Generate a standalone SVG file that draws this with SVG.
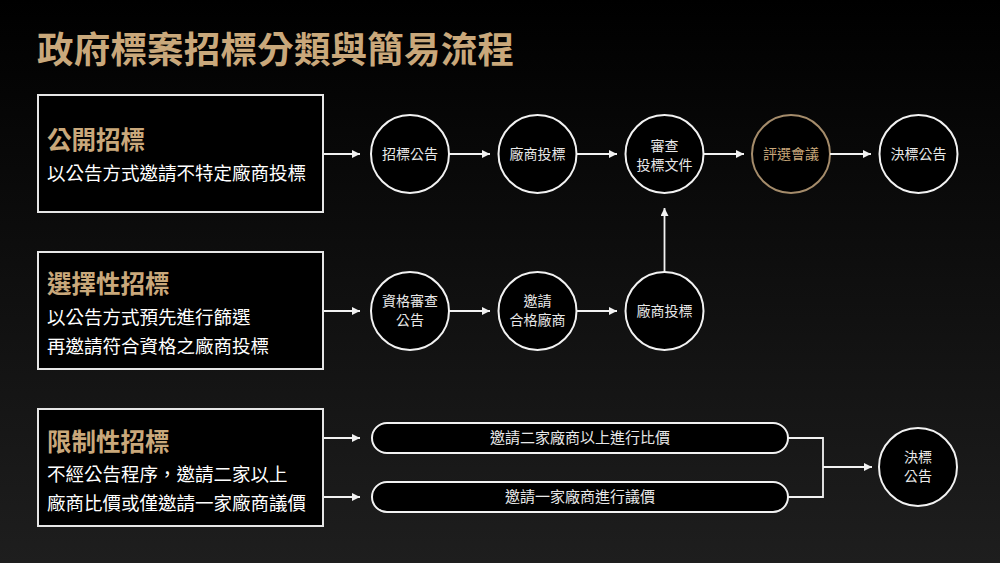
<svg xmlns="http://www.w3.org/2000/svg" width="1000" height="563" viewBox="0 0 1000 563">
<defs>
<linearGradient id="bg" x1="0" y1="0" x2="0" y2="1">
<stop offset="0" stop-color="#000000"/>
<stop offset="1" stop-color="#1e1e1e"/>
</linearGradient>
<marker id="ah" viewBox="0 0 10 10" refX="10" refY="5" markerWidth="8" markerHeight="8" markerUnits="userSpaceOnUse" orient="auto">
<path d="M0,0 L10,5 L0,10 Z" fill="#f2f2f2"/>
</marker>
<style>
text{font-family:"Noto Sans CJK TC","Noto Sans CJK SC",sans-serif;}
.title{font-size:36.5px;font-weight:700;fill:#c9a87b;letter-spacing:0.2px;}
.box{fill:#000;stroke:#e6e6e6;stroke-width:2;}
.head{font-size:24.5px;font-weight:700;fill:#c9a87b;}
.sub{font-size:18.5px;fill:#ffffff;}
.node{fill:#000;stroke:#f2f2f2;stroke-width:2;}
.gold{fill:#000;stroke:#a58c6b;stroke-width:2;}
.nt{font-size:14px;fill:#e8e8e8;text-anchor:middle;}
.gt{font-size:14px;fill:#c9a87b;text-anchor:middle;}
.pt{font-size:15px;fill:#e8e8e8;text-anchor:middle;}
.ln{fill:none;stroke:#f2f2f2;stroke-width:1.8;}
</style>
</defs>
<rect x="0" y="0" width="1000" height="563" fill="url(#bg)"/>
<text class="title" x="37" y="63">政府標案招標分類與簡易流程</text>

<g id="box-open">
<rect class="box" x="38" y="95" width="285" height="117"/>
<text class="head" x="47" y="149">公開招標</text>
<text class="sub" x="47" y="180">以公告方式邀請不特定廠商投標</text>
</g>
<g id="box-selective">
<rect class="box" x="38" y="252" width="285" height="117"/>
<text class="head" x="47" y="293">選擇性招標</text>
<text class="sub" x="47" y="324">以公告方式預先進行篩選</text>
<text class="sub" x="47" y="353">再邀請符合資格之廠商投標</text>
</g>
<g id="box-limited">
<rect class="box" x="38" y="409" width="285" height="117"/>
<text class="head" x="47" y="451">限制性招標</text>
<text class="sub" x="47" y="481">不經公告程序，邀請二家以上</text>
<text class="sub" x="47" y="510">廠商比價或僅邀請一家廠商議價</text>
</g>

<g id="n1"><circle class="node" cx="410" cy="154" r="39"/><text class="nt" x="410" y="159">招標公告</text></g>
<g id="n2"><circle class="node" cx="537.5" cy="154" r="39"/><text class="nt" x="537.5" y="159">廠商投標</text></g>
<g id="n3"><circle class="node" cx="664.5" cy="154" r="39"/><text class="nt" x="664.5" y="151">審查</text><text class="nt" x="664.5" y="170">投標文件</text></g>
<g id="n4"><circle class="gold" cx="791" cy="154" r="39"/><text class="gt" x="791" y="159">評選會議</text></g>
<g id="n5"><circle class="node" cx="918.5" cy="154" r="39"/><text class="nt" x="918.5" y="159">決標公告</text></g>

<g id="s1"><circle class="node" cx="410" cy="311" r="39"/><text class="nt" x="410" y="306">資格審查</text><text class="nt" x="410" y="325">公告</text></g>
<g id="s2"><circle class="node" cx="537.5" cy="311" r="39"/><text class="nt" x="537.5" y="306">邀請</text><text class="nt" x="537.5" y="325">合格廠商</text></g>
<g id="s3"><circle class="node" cx="664.5" cy="311" r="39"/><text class="nt" x="664.5" y="316">廠商投標</text></g>

<g id="p1"><rect class="node" x="372" y="423" width="416" height="30" rx="15"/><text class="pt" x="580" y="443">邀請二家廠商以上進行比價</text></g>
<g id="p2"><rect class="node" x="372" y="482" width="416" height="30" rx="15"/><text class="pt" x="580" y="502">邀請一家廠商進行議價</text></g>
<g id="c1"><circle class="node" cx="918" cy="467" r="39"/><text class="nt" x="918" y="462">決標</text><text class="nt" x="918" y="481">公告</text></g>

<g id="connectors">
<line class="ln" x1="324" y1="154" x2="360" y2="154" marker-end="url(#ah)"/>
<line class="ln" x1="449" y1="154" x2="490" y2="154" marker-end="url(#ah)"/>
<line class="ln" x1="576.5" y1="154" x2="617" y2="154" marker-end="url(#ah)"/>
<line class="ln" x1="703.5" y1="154" x2="744" y2="154" marker-end="url(#ah)"/>
<line class="ln" x1="830" y1="154" x2="871" y2="154" marker-end="url(#ah)"/>
<line class="ln" x1="324" y1="311" x2="360" y2="311" marker-end="url(#ah)"/>
<line class="ln" x1="449" y1="311" x2="490" y2="311" marker-end="url(#ah)"/>
<line class="ln" x1="576.5" y1="311" x2="617" y2="311" marker-end="url(#ah)"/>
<line class="ln" x1="664.5" y1="272" x2="664.5" y2="208" marker-end="url(#ah)"/>
<line class="ln" x1="324" y1="438" x2="360" y2="438" marker-end="url(#ah)"/>
<line class="ln" x1="324" y1="497" x2="360" y2="497" marker-end="url(#ah)"/>
<polyline class="ln" points="788,438 823,438 823,497 788,497"/>
<line class="ln" x1="823" y1="467" x2="872" y2="467" marker-end="url(#ah)"/>
</g>
</svg>
